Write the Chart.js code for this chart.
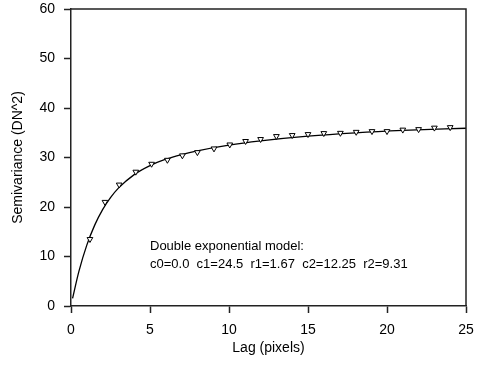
<!DOCTYPE html>
<html>
<head>
<meta charset="utf-8">
<script src="https://cdn.jsdelivr.net/npm/chart.js@4/dist/chart.umd.min.js"></script>
<style>
  html, body { margin: 0; padding: 0; background: #fff; }
  #wrap { width: 481px; height: 374px; position: relative; }
</style>
</head>
<body>
<div id="wrap"><canvas id="c" width="481" height="374"></canvas></div>
<script>
const lags = [1.2, 2.15, 3.05, 4.1, 5.1, 6.1, 7.05, 8.0, 9.05, 10.05, 11.05, 12.0, 13.0, 14.0, 15.0, 16.0, 17.05, 18.05, 19.05, 20.0, 21.0, 22.0, 23.0, 24.0];
const semivariance = [13.5, 21.0, 24.5, 27.1, 28.7, 29.5, 30.4, 31.05, 31.8, 32.6, 33.3, 33.7, 34.3, 34.5, 34.7, 34.9, 34.95, 35.15, 35.3, 35.3, 35.6, 35.7, 36.0, 36.1];

// Fitted double exponential model curve
const modelLags = [0.1, 0.5, 1, 1.5, 2, 2.5, 3, 4, 5, 6, 7, 8, 10, 12, 15, 18, 21, 25];
const modelValues = [1.55, 6.98, 12.29, 16.34, 19.47, 21.90, 23.81, 26.54, 28.36, 29.65, 30.60, 31.36, 32.51, 33.35, 34.30, 34.98, 35.47, 35.91];

// Axis ticks
const xTicks = [0, 5, 10, 15, 20, 25];
const yTicks = [0, 10, 20, 30, 40, 50, 60];

// Annotation text
const noteLines = ["Double exponential model:", "c0=0.0  c1=24.5  r1=1.67  c2=12.25  r2=9.31"];
const xTitle = "Lag (pixels)";
const yTitle = "Semivariance (DN^2)";

const FONT = "'Liberation Sans', Arial, Helvetica, sans-serif";

const framePlugin = {
  id: 'frame',
  afterDatasetsDraw(chart) {
    const {ctx, chartArea: a} = chart;
    ctx.save();
    ctx.strokeStyle = '#222';
    ctx.lineWidth = 1.5;
    ctx.beginPath();
    ctx.moveTo(a.left, a.top);
    ctx.lineTo(a.right, a.top);
    ctx.lineTo(a.right, a.bottom);
    ctx.stroke();
    ctx.restore();
  }
};

const notePlugin = {
  id: 'note',
  afterDraw(chart) {
    const {ctx, scales} = chart;
    const x = scales.x.getPixelForValue(5.0);
    const y0 = scales.y.getPixelForValue(12.1);
    ctx.save();
    ctx.fillStyle = '#000';
    ctx.font = '13px ' + FONT;
    ctx.textBaseline = 'middle';
    ctx.textAlign = 'left';
    ctx.fillText(noteLines[0], x, y0);
    ctx.fillText(noteLines[1], x, y0 + 18);
    ctx.restore();
  }
};

function zeroPad(scale) {
  scale.paddingTop = 0; scale.paddingBottom = 0;
  scale.paddingLeft = 0; scale.paddingRight = 0;
}

new Chart(document.getElementById('c'), {
  type: 'scatter',
  data: {
    datasets: [
      {
        label: 'data',
        data: lags.map((l, i) => ({x: l, y: semivariance[i]})),
        showLine: false,
        pointStyle: 'triangle',
        rotation: 180,
        pointRadius: 3.3,
        pointBorderWidth: 1,
        pointBackgroundColor: '#fff',
        pointBorderColor: '#000',
        order: 0
      },
      {
        label: 'model',
        data: modelLags.map((l, i) => ({x: l, y: modelValues[i]})),
        showLine: true,
        borderColor: '#000',
        borderWidth: 1.3,
        pointRadius: 0,
        cubicInterpolationMode: 'monotone',
        fill: false,
        order: 1
      }
    ]
  },
  options: {
    responsive: false,
    animation: false,
    devicePixelRatio: 1,
    layout: { padding: { left: 0, top: 9, right: 15, bottom: 0 } },
    plugins: { legend: { display: false }, tooltip: { enabled: false } },
    scales: {
      x: {
        type: 'linear',
        min: 0, max: 25,
        afterBuildTicks(scale) { scale.ticks = xTicks.map(v => ({value: v})); },
        afterFit(scale) { scale.height = 68; zeroPad(scale); },
        ticks: { color: '#000', font: { family: FONT, size: 14 }, padding: 9, maxRotation: 0 },
        grid: { drawOnChartArea: false, drawTicks: true, tickLength: 7, tickColor: '#222', tickWidth: 1.5 },
        border: { display: true, color: '#222', width: 1.5 },
        title: { display: true, text: xTitle, color: '#000', font: { family: FONT, size: 14 }, padding: { top: 0, bottom: 17 } }
      },
      y: {
        type: 'linear',
        min: 0, max: 60,
        afterBuildTicks(scale) { scale.ticks = yTicks.map(v => ({value: v})); },
        afterFit(scale) { scale.width = 71; zeroPad(scale); },
        ticks: { color: '#000', font: { family: FONT, size: 14 }, padding: 9 },
        grid: { drawOnChartArea: false, drawTicks: true, tickLength: 7, tickColor: '#222', tickWidth: 1.5 },
        border: { display: true, color: '#222', width: 1.5 },
        title: { display: true, text: yTitle, color: '#000', font: { family: FONT, size: 14 }, padding: { top: 10, bottom: 0 } }
      }
    }
  },
  plugins: [framePlugin, notePlugin]
});
</script>
</body>
</html>
